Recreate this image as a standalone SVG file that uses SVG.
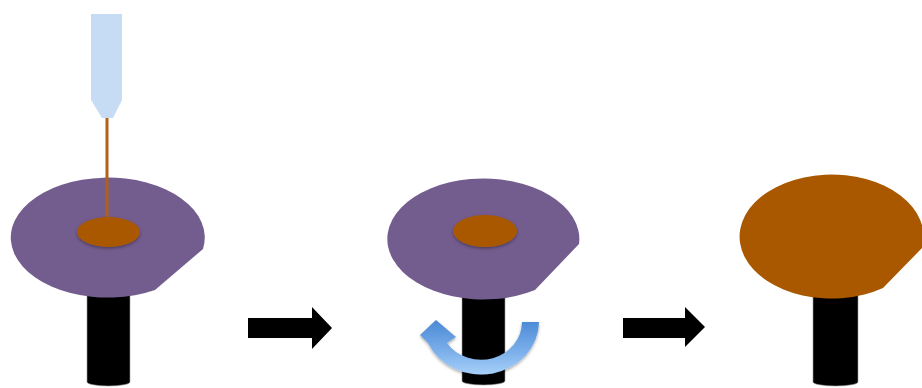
<svg xmlns="http://www.w3.org/2000/svg" width="922" height="388" viewBox="0 0 922 388">
  <defs>
    <style>
      .wafer { fill: #735c8e; }
      .drop { fill: #a95800; }
      .film { fill: #a95800; }
      .chuck { fill: #000000; stroke: #9a9a9a; stroke-width: 0.6; }
      .tip { fill: #c6dcf5; }
      .needle { stroke: #b0611c; stroke-width: 3; fill: none; }
      .step { fill: #000000; }
    </style>
    <linearGradient id="spinGrad" gradientUnits="userSpaceOnUse" x1="0" y1="320" x2="0" y2="376">
      <stop offset="0" stop-color="#4a89d5"/>
      <stop offset="0.6" stop-color="#7fb2ec"/>
      <stop offset="1" stop-color="#aad2f9"/>
    </linearGradient>
    <filter id="softShadow" x="-20%" y="-20%" width="140%" height="160%">
      <feDropShadow dx="0" dy="1.5" stdDeviation="1.5" flood-color="#000000" flood-opacity="0.35"/>
    </filter>
  </defs>

  <!-- Stage 1: dispensing onto the wafer -->
  <g id="stage1">
    <path class="chuck" d="M87,280 V382 A21.5 4 0 0 0 130,382 V280 Z"/>
    <path class="wafer" d="M203,249 A97 60 0 1 0 155,290 Z"/>
    <line class="needle" x1="107" y1="112" x2="107" y2="226"/>
    <ellipse class="drop" cx="108.5" cy="232" rx="31.5" ry="15" filter="url(#softShadow)"/>
  </g>

  <g id="pipette">
    <path class="tip" d="M91,14 H122 V100 L113,118 H102 L91,100 Z"/>
  </g>

  <!-- Stage 2: spinning -->
  <g id="stage2">
    <path class="chuck" d="M462,280 V381 A21.5 4 0 0 0 505,381 V280 Z"/>
    <path class="wafer" d="M579,244 A96 60.5 0 1 0 535,290 Z"/>
    <ellipse class="drop" cx="485" cy="231" rx="32" ry="16" filter="url(#softShadow)"/>
    <path id="spin-arrow" fill="url(#spinGrad)" filter="url(#softShadow)"
          d="M539,322 A58 53 0 0 1 428,343 L420,335 L436,320 L456,337 L447,343 A41 38 0 0 0 522,322 Z"/>
  </g>

  <!-- Stage 3: coated wafer -->
  <g id="stage3">
    <path class="chuck" d="M813,280 V382 A22.5 4 0 0 0 858,382 V280 Z"/>
    <path class="film" d="M922,248 A92 62 0 1 0 883,288 Z"/>
  </g>

  <!-- Step arrows between stages -->
  <g id="connectors">
    <path class="step" d="M248,318 H312 V307 L332,328 L312,349 V338 H248 Z"/>
    <path class="step" d="M623,318 H685 V307 L705,327 L685,347 V338 H623 Z"/>
  </g>
</svg>
